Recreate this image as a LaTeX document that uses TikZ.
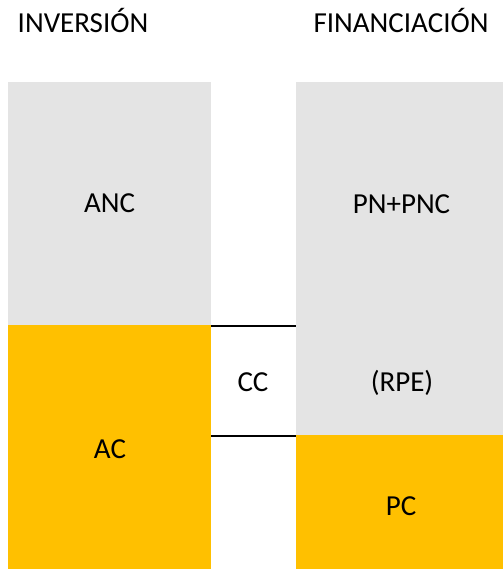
\documentclass[tikz,border=0pt]{standalone}
\usepackage{fontspec}
\setmainfont{Carlito}
\definecolor{boxgray}{HTML}{E4E4E4}
\definecolor{boxorange}{HTML}{FFC000}
\begin{document}
\begin{tikzpicture}[x=1pt,y=-1pt,
  lbl/.style={anchor=base,inner sep=0pt,font=\fontsize{29}{31}\selectfont},
  sep/.style={draw=black,line width=1.8pt}]
\useasboundingbox (0,0) rectangle (503,569);
\fill[boxgray] (8,82) rectangle (211,325);
\fill[boxorange] (8,325) rectangle (211,569);
\fill[boxgray] (296,82) rectangle (503,435);
\fill[boxorange] (296,435) rectangle (503,569);
\node[lbl] (inv) at (83,33) {INVERSIÓN};
\node[lbl] (fin) at (401,33) {FINANCIACIÓN};
\node[lbl] (anc) at (109.5,212.7) {ANC};
\node[lbl] (pn) at (401.5,213) {PN+PNC};
\node[lbl] (rpe) at (402,391) {(RPE)};
\node[lbl] (cc) at (253,391.7) {CC};
\node[lbl] (ac) at (110,458) {AC};
\node[lbl] (pc) at (401,515) {PC};
\coordinate (l1) at (211,325.7);
\coordinate (r1) at (296,325.7);
\coordinate (l2) at (211,435.7);
\coordinate (r2) at (296,435.7);
\draw[sep] (l1) -- (r1);
\draw[sep] (l2) -- (r2);
\end{tikzpicture}
\end{document}
